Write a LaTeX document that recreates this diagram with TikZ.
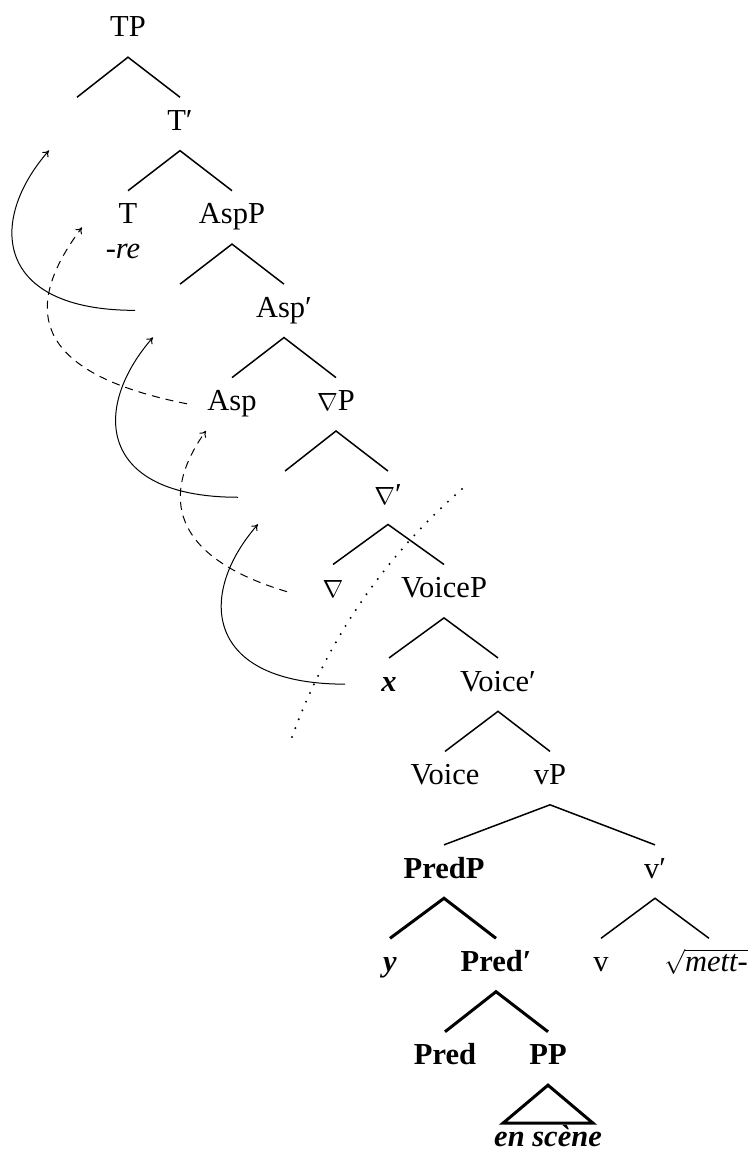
\documentclass[tikz,border=0pt]{standalone}
\usepackage{fontspec}
\setmainfont{Liberation Serif}
\usetikzlibrary{arrows.meta,calc}
\begin{document}
\begin{tikzpicture}[x=1pt,y=-1pt,
  lab/.style={inner sep=0pt, text height=33pt, text depth=20pt, anchor=base, font=\fontsize{30.5}{36}\selectfont},
  leaf/.style={lab, text height=22pt, text depth=1pt},
  br/.style={line width=1.5pt},
  thickbr/.style={line width=3pt},
  mv/.style={line width=1pt, -{To[length=6pt,width=8pt]}},
  mvd/.style={mv, dash pattern=on 8pt off 6pt},
  dotline/.style={line width=2.2pt, dash pattern=on 0pt off 9.5pt, line cap=round},
  ]
\useasboundingbox (0,0) rectangle (751,1153);
% nodes
\node[lab] (TP) at (128,37) {TP};
\node[lab] (TPs) at (77,130.45) {};
\node[lab] (Tb) at (180,130.45) {T′};
\node[lab] (T) at (128,223.9) {T};
\node[lab] (AspP) at (232,223.9) {AspP};
\node[leaf] (re) at (123,258) {\itshape -re};
\node[lab] (AspPs) at (180,317.35) {};
\node[lab] (Aspb) at (284,317.35) {Asp′};
\node[lab] (Asp) at (232,410.8) {Asp};
\node[lab] (NP) at (336,410.8) {$\nabla$P};
\node[lab] (NPs) at (285,504.25) {};
\node[lab] (Nb) at (388,504.25) {$\nabla$′};
\node[lab] (N) at (333,597.7) {$\nabla$};
\node[lab] (VoiceP) at (444,597.7) {VoiceP};
\node[lab] (x) at (389,691.15) {\bfseries\itshape x};
\node[lab] (Voiceb) at (498,691.15) {Voice′};
\node[lab] (Voice) at (445,784.6) {Voice};
\node[lab] (vP) at (550,784.6) {vP};
\node[lab] (PredP) at (444,878.05) {\bfseries PredP};
\node[lab] (vb) at (655,878.05) {v′};
\node[lab] (y) at (390,971.5) {\bfseries\itshape y};
\node[lab] (Predb) at (496,971.5) {\bfseries Pred′};
\node[lab] (v) at (601,971.5) {v};
\node[lab] (root) at (706,971.5) {$\sqrt{\textit{mett-}}$};
\node[lab] (Pred) at (445,1064.95) {\bfseries Pred};
\node[lab] (PP) at (548,1064.95) {\bfseries PP};
\node[leaf] (es) at (548,1146.5) {\bfseries\itshape en scène};
% branches
\draw[br] (TPs.north) -- (TP.south) -- (Tb.north);
\draw[br] (T.north) -- (Tb.south) -- (AspP.north);
\draw[br] (AspPs.north) -- (AspP.south) -- (Aspb.north);
\draw[br] (Asp.north) -- (Aspb.south) -- (NP.north);
\draw[br] (NPs.north) -- (NP.south) -- (Nb.north);
\draw[br] (N.north) -- (Nb.south) -- (VoiceP.north);
\draw[br] (x.north) -- (VoiceP.south) -- (Voiceb.north);
\draw[br] (Voice.north) -- (Voiceb.south) -- (vP.north);
\draw[br] (PredP.north) -- (vP.south) -- (vb.north);
\draw[br] (v.north) -- (vb.south) -- ($(root.north)+(3,0)$);
\draw[thickbr] (y.north) -- (PredP.south) -- (Predb.north);
\draw[thickbr] (Pred.north) -- (Predb.south) -- (PP.north);
\draw[thickbr, line join=miter] (PP.south) -- ($(PP.south)+(-45,38)$) -- ($(PP.south)+(45,38)$) -- cycle;
% movement arrows
\coordinate (s1) at ($(AspPs.base)+(-45,-7)$);
\coordinate (e1) at ($(TPs.base)+(-28,20)$);
\coordinate (s2) at ($(NPs.base)+(-47,-7)$);
\coordinate (e2) at ($(AspPs.base)+(-27,20)$);
\coordinate (s3) at ($(x.base)+(-44,-7)$);
\coordinate (e3) at ($(NPs.base)+(-27,20)$);
\draw[mv] (s1) .. controls +(-140,0) and +(-62,71) .. (e1);
\draw[mv] (s2) .. controls +(-140,0) and +(-62,71) .. (e2);
\draw[mv] (s3) .. controls +(-140,0) and +(-62,71) .. (e3);
\coordinate (d1s) at ($(Asp.base)+(-45,-7)$);
\coordinate (d1e) at ($(T.base)+(-46,3.5)$);
\coordinate (d2s) at ($(N.base)+(-46,-6)$);
\coordinate (d2e) at ($(Asp.base)+(-26,20)$);
\draw[mvd] (d1s) .. controls +(-167,-33) and +(-54,72) .. (d1e);
\draw[mvd] (d2s) .. controls +(-117,-35) and +(-46,64) .. (d2e);
% phase boundary
\coordinate (b1) at (292,737);
\coordinate (b2) at (469,483);
\draw[dotline] (b1) .. controls (328.6,636.7) and (387.6,552.1) .. (b2);
\end{tikzpicture}
\end{document}
